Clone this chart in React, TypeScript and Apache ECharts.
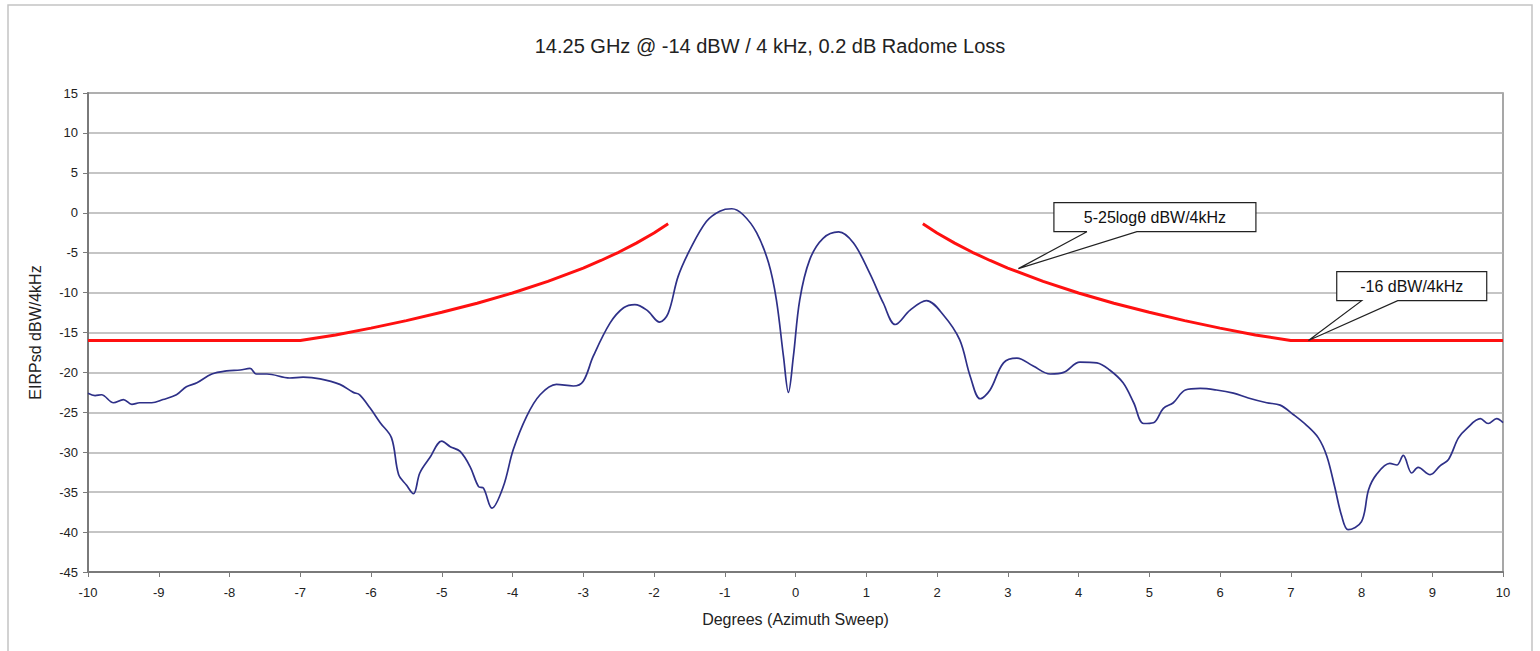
import React, { useEffect, useRef } from "react";
import * as echarts from "echarts";

const titleText = "14.25 GHz @ -14 dBW / 4 kHz, 0.2 dB Radome Loss";
const xAxisName = "Degrees (Azimuth Sweep)";
const yAxisName = "EIRPsd dBW/4kHz";

const sweepDeg = [
  -10.0, -9.9, -9.81, -9.64, -9.5, -9.38, -9.27, -9.1, -8.94, -8.75, -8.61, -8.46, -8.25, -8.04, -7.85, -7.71,
  -7.62, -7.47, -7.15, -6.96, -6.72, -6.44, -6.25, -6.16, -6.01, -5.87, -5.71, -5.61, -5.5, -5.4, -5.31, -5.17,
  -5.0, -4.88, -4.74, -4.6, -4.48, -4.41, -4.29, -4.13, -3.99, -3.8, -3.61, -3.38, -3.14, -3.0, -2.86, -2.62,
  -2.43, -2.27, -2.1, -1.92, -1.8, -1.66, -1.49, -1.26, -1.07, -0.9, -0.74, -0.55, -0.38, -0.27, -0.17, -0.1,
  -0.03, 0.06, 0.2, 0.39, 0.61, 0.82, 1.05, 1.24, 1.41, 1.62, 1.85, 2.09, 2.32, 2.47, 2.61, 2.75,
  2.94, 3.13, 3.36, 3.6, 3.79, 4.02, 4.26, 4.44, 4.63, 4.78, 4.92, 5.06, 5.2, 5.34, 5.51, 5.72,
  5.95, 6.19, 6.4, 6.66, 6.85, 7.04, 7.22, 7.39, 7.51, 7.62, 7.72, 7.81, 8.0, 8.1, 8.21, 8.4,
  8.5, 8.59, 8.71, 8.8, 8.97, 9.11, 9.23, 9.37, 9.49, 9.68, 9.79, 9.91, 10.0,
];
const sweepEirp = [
  -22.6, -22.9, -22.8, -23.8, -23.4, -24.0, -23.8, -23.8, -23.4, -22.8, -21.8, -21.3, -20.2, -19.8, -19.7, -19.5,
  -20.2, -20.2, -20.7, -20.6, -20.8, -21.5, -22.5, -22.8, -24.5, -26.3, -28.2, -32.8, -34.1, -35.2, -32.6, -30.7,
  -28.6, -29.3, -29.9, -31.8, -34.3, -34.5, -37.0, -34.3, -29.7, -25.5, -22.8, -21.5, -21.7, -21.1, -18.0, -13.8,
  -11.9, -11.5, -12.2, -13.7, -12.6, -8.0, -4.6, -1.1, 0.2, 0.5, -0.25, -2.5, -6.3, -10.9, -18.0, -22.5,
  -18.0, -10.9, -5.9, -3.2, -2.4, -3.8, -7.6, -11.3, -14.0, -12.2, -11.0, -12.8, -15.9, -20.5, -23.3, -22.2,
  -18.8, -18.2, -19.2, -20.2, -20.0, -18.7, -18.8, -19.7, -21.3, -23.8, -26.4, -26.3, -24.5, -23.8, -22.2, -22.0,
  -22.2, -22.6, -23.2, -23.8, -24.1, -25.3, -26.6, -28.2, -30.5, -34.3, -38.0, -39.7, -38.7, -34.7, -32.8, -31.4,
  -31.6, -30.4, -32.6, -31.9, -32.8, -31.7, -30.9, -28.2, -27.0, -25.8, -26.4, -25.8, -26.3,
];

const maskLeftDeg = [-10, -7, -6.5, -6, -5.5, -5, -4.5, -4, -3.5, -3, -2.75, -2.5, -2.25, -2, -1.8];
const maskLeftEirp = [-16, -16, -15.32, -14.45, -13.51, -12.47, -11.33, -10.05, -8.6, -6.93, -5.98, -4.95, -3.8, -2.53, -1.38];
const maskRightDeg = [1.8, 2, 2.25, 2.5, 2.75, 3, 3.5, 4, 4.5, 5, 5.5, 6, 6.5, 7, 10];
const maskRightEirp = [-1.38, -2.53, -3.8, -4.95, -5.98, -6.93, -8.6, -10.05, -11.33, -12.47, -13.51, -14.45, -15.32, -16, -16];

const annoTexts = ["5-25logθ dBW/4kHz", "-16 dBW/4kHz"];
const annoCenters = [[5.08, -0.56], [8.71, -9.2]];
const annoTips = [[3.15, -7.0], [7.25, -16]];

const FONT = "Arial, 'Liberation Sans', sans-serif";

export default function App() {
  const ref = useRef<HTMLDivElement>(null);
  useEffect(() => {
    const chart = echarts.init(ref.current!, null, { renderer: "svg" });
    const pairs = (xs: number[], ys: number[]) => xs.map((x, i) => [x, ys[i]]);
    chart.setOption({
      animation: false,
      backgroundColor: "#ffffff",
      title: {
        text: titleText,
        left: "center",
        top: 31,
        textStyle: { fontFamily: FONT, fontSize: 20, fontWeight: "normal", color: "#222" },
      },
      grid: {
        left: 88,
        right: 37,
        top: 93,
        bottom: 79,
        show: true,
        borderColor: "#8a8a8a",
        borderWidth: 1.5,
        backgroundColor: "#fff",
      },
      xAxis: {
        type: "value",
        min: -10,
        max: 10,
        interval: 1,
        name: xAxisName,
        nameLocation: "middle",
        nameGap: 39,
        nameTextStyle: { fontFamily: FONT, fontSize: 16, color: "#222" },
        axisLine: { onZero: false, lineStyle: { color: "#7a7a7a", width: 2 } },
        axisTick: { show: true, length: 5, lineStyle: { color: "#7a7a7a", width: 1 } },
        axisLabel: { fontFamily: FONT, fontSize: 13, color: "#222", margin: 14 },
        splitLine: { show: false },
      },
      yAxis: {
        type: "value",
        min: -45,
        max: 15,
        interval: 5,
        name: yAxisName,
        nameLocation: "middle",
        nameGap: 45,
        nameTextStyle: { fontFamily: FONT, fontSize: 16, color: "#222" },
        axisLine: { show: true, onZero: false, lineStyle: { color: "#7a7a7a", width: 2 } },
        axisTick: { show: true, length: 5, lineStyle: { color: "#7a7a7a", width: 1 } },
        axisLabel: { fontFamily: FONT, fontSize: 13, color: "#222", margin: 10 },
        splitLine: { show: true, lineStyle: { color: "#b2b2b2", width: 1.5 } },
      },
      series: [
        {
          type: "line",
          data: pairs(maskLeftDeg, maskLeftEirp),
          showSymbol: false,
          lineStyle: { color: "#ff1010", width: 3 },
          z: 3,
        },
        {
          type: "line",
          data: pairs(maskRightDeg, maskRightEirp),
          showSymbol: false,
          lineStyle: { color: "#ff1010", width: 3 },
          z: 3,
        },
        {
          type: "line",
          data: pairs(sweepDeg, sweepEirp),
          showSymbol: false,
          smooth: 0.35,
          lineStyle: { color: "#2e3088", width: 1.7 },
          z: 4,
        },
      ],
    });

    const boxW = [202, 150];
    const boxH = 29;
    const tailOff = [[33, 83], [25, 61]];
    const graphics: any[] = [
      {
        type: "rect",
        shape: { x: 8, y: 5, width: 1524, height: 660 },
        style: { fill: "none", stroke: "#c4c4c4", lineWidth: 1.5 },
        silent: true,
        z: 0,
      },
    ];
    annoTexts.forEach((t, i) => {
      const c = chart.convertToPixel({ gridIndex: 0 }, annoCenters[i]) as number[];
      const tip = chart.convertToPixel({ gridIndex: 0 }, annoTips[i]) as number[];
      const l = c[0] - boxW[i] / 2;
      const r = c[0] + boxW[i] / 2;
      const tp = c[1] - boxH / 2;
      const bt = c[1] + boxH / 2;
      graphics.push({
        type: "polygon",
        shape: {
          points: [
            [l, tp],
            [r, tp],
            [r, bt],
            [l + tailOff[i][1], bt],
            [tip[0], tip[1]],
            [l + tailOff[i][0], bt],
            [l, bt],
          ],
        },
        style: { fill: "#ffffff", stroke: "#222", lineWidth: 1.2 },
        z: 10,
      });
      graphics.push({
        type: "text",
        x: c[0],
        y: c[1],
        style: {
          text: t,
          fontFamily: FONT,
          fontSize: 16,
          fill: "#111",
          align: "center",
          verticalAlign: "middle",
        },
        z: 11,
      });
    });
    chart.setOption({ graphic: graphics });
    return () => chart.dispose();
  }, []);
  return (
    <div
      ref={ref}
      style={{ position: "fixed", left: 0, top: 0, width: 1540, height: 651, background: "#fff" }}
    />
  );
}
